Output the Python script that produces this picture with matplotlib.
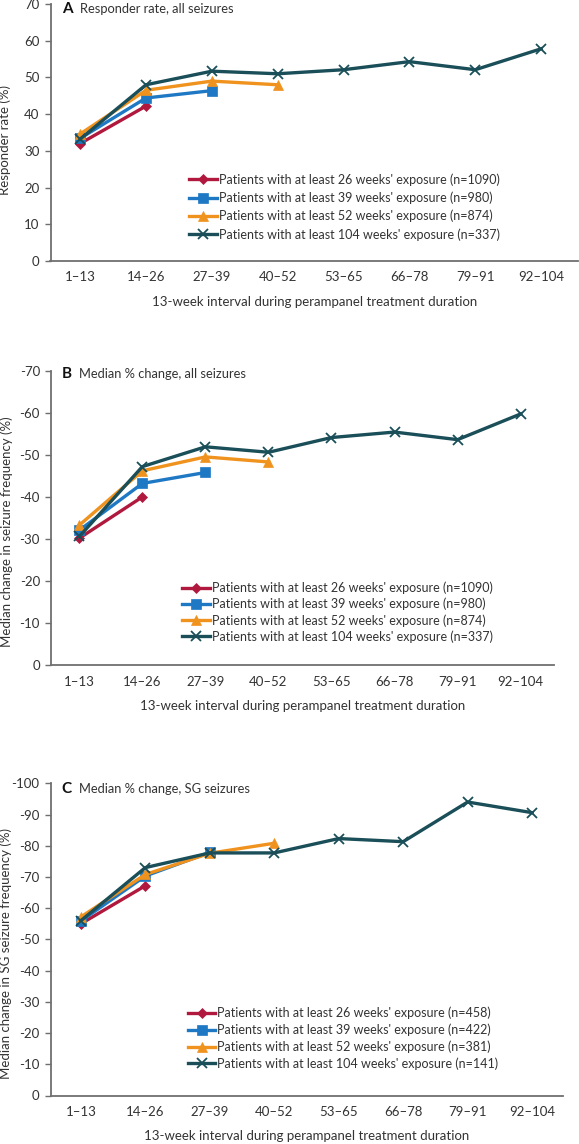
import matplotlib
matplotlib.use("Agg")
import matplotlib.pyplot as plt

plt.rcParams['font.family'] = ['Lato', 'DejaVu Sans']

intervals = ["1\u201313", "14\u201326", "27\u201339", "40\u201352", "53\u201365", "66\u201378", "79\u201391", "92\u2013104"]

# Panel A: responder rate (%)
a_26 = [32.0, 42.2]
a_39 = [33.4, 44.4, 46.4]
a_52 = [34.6, 46.5, 49.0, 48.0]
a_104 = [33.2, 48.0, 51.7, 51.0, 52.1, 54.3, 52.1, 57.8]

# Panel B: median % change, all seizures
b_26 = [-30.2, -40.0]
b_39 = [-32.1, -43.2, -45.8]
b_52 = [-33.3, -46.2, -49.5, -48.3]
b_104 = [-30.6, -47.2, -51.9, -50.6, -54.1, -55.4, -53.6, -59.7]

# Panel C: median % change, SG seizures
c_26 = [-55.0, -67.2]
c_39 = [-55.9, -70.3, -77.9]
c_52 = [-57.2, -70.8, -77.6, -80.8]
c_104 = [-56.0, -73.0, -77.7, -77.7, -82.3, -81.3, -94.0, -90.6]

labels_ab = ["Patients with at least 26 weeks' exposure (n=1090)",
             "Patients with at least 39 weeks' exposure (n=980)",
             "Patients with at least 52 weeks' exposure (n=874)",
             "Patients with at least 104 weeks' exposure (n=337)"]
labels_c = ["Patients with at least 26 weeks' exposure (n=458)",
            "Patients with at least 39 weeks' exposure (n=422)",
            "Patients with at least 52 weeks' exposure (n=381)",
            "Patients with at least 104 weeks' exposure (n=141)"]

colors = ["#B0183D", "#1F78C4", "#F0921E", "#1A4E58"]
markers = ["D", "s", "^", "x"]
msizes = [5, 7, 7.5, 6.5]

W, H = 579, 1144
fig = plt.figure(figsize=(W / 100, H / 100), dpi=100)

def make_axes(px_left, px_right, px_top, px_bottom):
    return fig.add_axes([px_left / W, 1 - px_bottom / H,
                         (px_right - px_left) / W, (px_bottom - px_top) / H])

panels = [
    dict(box=(50.5, 578, 4, 261), series=[a_26, a_39, a_52, a_104], labels=labels_ab,
         ylim=(0, 70), yticks=list(range(0, 71, 10)), ylabel="Responder rate (%)",
         letter="A", title="Responder rate, all seizures", xlim=(-0.45, 7.56),
         leg=(0.263, 0.342), lsp=0.46, ty=0.98, yl=0.47),
    dict(box=(51, 554, 370.6, 665.3), series=[b_26, b_39, b_52, b_104], labels=labels_ab,
         ylim=(0, -70), yticks=list(range(0, -71, -10)),
         ylabel="Median change in seizure frequency (%)",
         letter="B", title="Median % change, all seizures", xlim=(-0.45, 7.53),
         leg=(0.261, 0.283), lsp=0.28, ty=0.987, yl=0.452),
    dict(box=(50.6, 563, 783.3, 1095.5), series=[c_26, c_39, c_52, c_104], labels=labels_c,
         ylim=(0, -100), yticks=list(range(0, -101, -10)),
         ylabel="Median change in SG seizure frequency (%)",
         letter="C", title="Median % change, SG seizures", xlim=(-0.47, 7.48),
         leg=(0.268, 0.284), lsp=0.34, ty=0.981, yl=0.456),
]

for p in panels:
    ax = make_axes(*p["box"])
    for vals, col, mk, ms, lab in zip(p["series"], colors, markers, msizes, p["labels"]):
        xs = list(range(len(vals)))
        ax.plot(xs, vals, color=col, lw=2.4, marker=mk, ms=ms,
                markeredgewidth=1.3 if mk == "x" else 0.5, markeredgecolor=col,
                markerfacecolor=col, label=lab, solid_joinstyle="miter")
    ax.set_xlim(*p["xlim"])
    ax.set_ylim(*p["ylim"])
    ax.set_yticks(p["yticks"])
    ax.set_yticklabels([str(v) for v in p["yticks"]])
    ax.set_xticks(range(len(intervals)))
    ax.set_xticklabels(intervals)
    for s in ["top", "right"]:
        ax.spines[s].set_visible(False)
    for s in ["left", "bottom"]:
        ax.spines[s].set_color("#6f6f6f")
        ax.spines[s].set_linewidth(1.3)
    ax.tick_params(axis="x", length=0, pad=7.5, labelsize=9.5, colors="#333333")
    ax.tick_params(axis="y", length=4, width=1.0, color="#6f6f6f", pad=4,
                   labelsize=9.5, labelcolor="#333333")
    ax.set_xlabel("13-week interval during perampanel treatment duration",
                  fontsize=9.5, color="#333333", labelpad=9)
    ax.set_ylabel(p["ylabel"], fontsize=9.5, color="#333333")
    ax.yaxis.set_label_coords(-0.075, p["yl"])
    ax.text(0.022, p["ty"], p["letter"], transform=ax.transAxes, fontsize=11,
            fontweight="bold", va="center", ha="left", color="#111111")
    ax.text(0.055, p["ty"], p["title"], transform=ax.transAxes, fontsize=9.3,
            va="center", ha="left", color="#333333")
    ax.legend(loc="upper left", bbox_to_anchor=p["leg"], frameon=False,
              fontsize=9, handlelength=2.2, handletextpad=0.15,
              labelspacing=p["lsp"], borderpad=0, borderaxespad=0, labelcolor="#333333")

fig.savefig("out.png", dpi=100)
